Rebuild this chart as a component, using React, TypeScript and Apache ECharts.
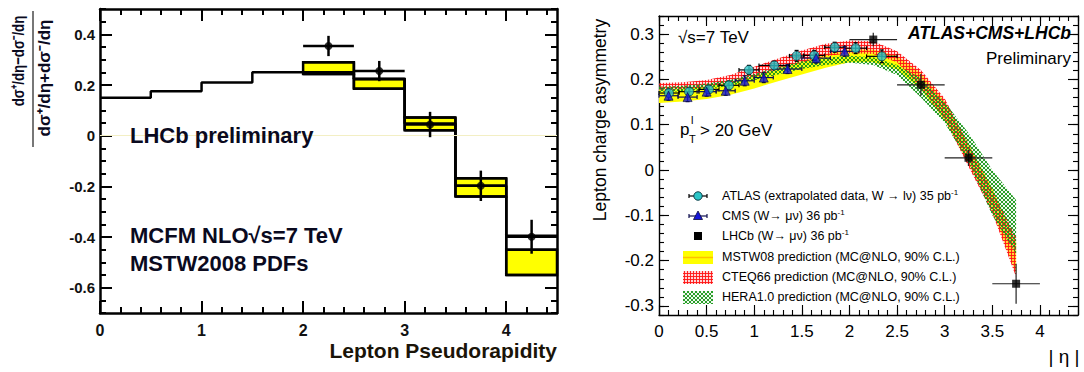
import React, { useEffect, useRef } from "react";
import * as echarts from "echarts";

// ---------------- Left panel (LHCb muon asymmetry) ----------------
const leftBinEdges = [0, 0.5, 1, 1.5, 2, 2.5, 3, 3.5, 4, 4.5];
const mcfmCentral = [0.15, 0.175, 0.21, 0.25, 0.25, 0.224, 0.048, -0.198, -0.395];
const boxLowEdge = [2, 2.5, 3, 3.5, 4];
const boxHighEdge = [2.5, 3, 3.5, 4, 4.5];
const boxUpper = [0.29, 0.224, 0.072, -0.168, -0.45];
const boxLower = [0.243, 0.185, 0.021, -0.24, -0.55];
const lhcbLeftEta = [2.25, 2.75, 3.25, 3.75, 4.25];
const lhcbLeftAsym = [0.354, 0.255, 0.044, -0.198, -0.399];
const lhcbLeftErr = [0.04, 0.04, 0.05, 0.06, 0.067];
const lhcbLeftHalfBin = [0.25, 0.25, 0.25, 0.25, 0.25];
const leftXTicks = [0, 1, 2, 3, 4];
const leftYTicks = [-0.6, -0.4, -0.2, 0, 0.2, 0.4];

// ---------------- Right panel (ATLAS+CMS+LHCb) ----------------
const atlasEta = [0.105, 0.315, 0.525, 0.735, 0.945, 1.21, 1.445, 1.63, 1.845, 2.065, 2.34];
const atlasHalfBin = [0.105, 0.105, 0.105, 0.105, 0.105, 0.16, 0.075, 0.11, 0.105, 0.115, 0.16];
const atlasAsym = [0.170, 0.173, 0.178, 0.187, 0.221, 0.231, 0.252, 0.253, 0.271, 0.269, 0.251];
const atlasErr = [0.008, 0.008, 0.008, 0.009, 0.010, 0.009, 0.012, 0.011, 0.011, 0.012, 0.014];

const cmsEta = [0.1, 0.3, 0.5, 0.7, 0.9, 1.1, 1.35, 1.65, 1.95];
const cmsHalfBin = [0.1, 0.1, 0.1, 0.1, 0.1, 0.1, 0.15, 0.15, 0.15];
const cmsAsym = [0.164, 0.161, 0.173, 0.175, 0.197, 0.204, 0.223, 0.247, 0.262];
const cmsErr = [0.010, 0.010, 0.010, 0.010, 0.011, 0.011, 0.010, 0.011, 0.011];

const lhcbEta = [2.25, 2.75, 3.25, 3.75];
const lhcbHalfBin = [0.25, 0.25, 0.25, 0.25];
const lhcbAsym = [0.288, 0.188, 0.027, -0.251];
const lhcbErr = [0.015, 0.024, 0.018, 0.044];

const bandEta = [0, 0.25, 0.5, 0.75, 1.0, 1.25, 1.5, 1.75, 2.0, 2.25, 2.5, 2.75, 3.0, 3.25, 3.5, 3.75];
const mstwLo = [0.148, 0.151, 0.157, 0.166, 0.180, 0.196, 0.211, 0.226, 0.238, 0.238, 0.222, 0.178, 0.110, 0.015, -0.090, -0.228];
const mstwHi = [0.178, 0.180, 0.185, 0.194, 0.207, 0.224, 0.241, 0.256, 0.266, 0.266, 0.252, 0.214, 0.152, 0.058, -0.040, -0.160];
const cteqLo = [0.176, 0.178, 0.183, 0.192, 0.205, 0.221, 0.237, 0.251, 0.258, 0.256, 0.238, 0.182, 0.112, 0.008, -0.095, -0.236];
const cteqHi = [0.192, 0.194, 0.199, 0.210, 0.228, 0.246, 0.264, 0.279, 0.286, 0.284, 0.262, 0.221, 0.158, 0.058, -0.045, -0.148];
const heraLo = [0.172, 0.174, 0.179, 0.186, 0.198, 0.211, 0.223, 0.232, 0.237, 0.232, 0.210, 0.160, 0.104, 0.018, -0.100, -0.185];
const heraHi = [0.184, 0.186, 0.191, 0.199, 0.212, 0.227, 0.240, 0.248, 0.252, 0.249, 0.232, 0.203, 0.150, 0.082, 0.000, -0.066];

const rightXTicks = [0, 0.5, 1, 1.5, 2, 2.5, 3, 3.5, 4];
const rightYTicks = [-0.3, -0.2, -0.1, 0, 0.1, 0.2, 0.3];

const legendLabels = [
  "ATLAS (extrapolated data, W \u2192 l\u03bd) 35 pb{sup|-1}",
  "CMS (W\u2192 \u03bc\u03bd) 36 pb{sup|-1}",
  "LHCb (W\u2192 \u03bc\u03bd) 36 pb{sup|-1}",
  "MSTW08 prediction (MC@NLO, 90% C.L.)",
  "CTEQ66 prediction (MC@NLO, 90% C.L.)",
  "HERA1.0 prediction (MC@NLO, 90% C.L.)",
];

const FONT = '"Liberation Sans", Arial, Helvetica, sans-serif';

function steps(start: number, end: number, step: number): number[] {
  const out: number[] = [];
  const n = Math.round((end - start) / step);
  for (let i = 0; i <= n; i++) out.push(Math.round((start + i * step) * 1e6) / 1e6);
  return out;
}

function makeAxes(
  grid: number,
  positions: string[],
  min: number,
  max: number,
  majors: number[],
  minors: number[],
  majorLen: number,
  minorLen: number,
  lw: number,
  label: any
) {
  const out: any[] = [];
  positions.forEach((pos, k) => {
    out.push({
      type: "value",
      gridIndex: grid,
      position: pos,
      min,
      max,
      axisLine: { show: true, onZero: false, lineStyle: { color: "#000", width: lw } },
      axisTick: { show: true, inside: true, length: majorLen, customValues: majors, lineStyle: { color: "#000", width: lw * 0.8 } },
      axisLabel: k === 0 ? { show: true, customValues: majors, ...label } : { show: false },
      splitLine: { show: false },
    });
    out.push({
      type: "value",
      gridIndex: grid,
      position: pos,
      min,
      max,
      axisLine: { show: false, onZero: false },
      axisTick: { show: true, inside: true, length: minorLen, customValues: minors, lineStyle: { color: "#000", width: lw * 0.8 } },
      axisLabel: { show: false },
      splitLine: { show: false },
    });
  });
  return out;
}

function errorBars(xIdx: number, yIdx: number, xs: number[], ys: number[], xHalf: number[], yErr: number[], color: string, lw: number, cap: number, z: number) {
  return {
    type: "custom",
    xAxisIndex: xIdx,
    yAxisIndex: yIdx,
    z,
    silent: true,
    data: xs.map((x, i) => [x, ys[i], x - xHalf[i], x + xHalf[i], ys[i] - yErr[i], ys[i] + yErr[i]]),
    encode: { x: 0, y: 1 },
    renderItem: (params: any, api: any) => {
      const x = api.value(0);
      const y = api.value(1);
      const l = api.coord([api.value(2), y]);
      const r = api.coord([api.value(3), y]);
      const b = api.coord([x, api.value(4)]);
      const t = api.coord([x, api.value(5)]);
      const style = { stroke: color, lineWidth: lw };
      const ch: any[] = [
        { type: "line", shape: { x1: l[0], y1: l[1], x2: r[0], y2: r[1] }, style },
        { type: "line", shape: { x1: b[0], y1: b[1], x2: t[0], y2: t[1] }, style },
      ];
      if (cap > 0) {
        ch.push({ type: "line", shape: { x1: b[0] - cap, y1: b[1], x2: b[0] + cap, y2: b[1] }, style });
        ch.push({ type: "line", shape: { x1: t[0] - cap, y1: t[1], x2: t[0] + cap, y2: t[1] }, style });
        ch.push({ type: "line", shape: { x1: l[0], y1: l[1] - cap, x2: l[0], y2: l[1] + cap }, style });
        ch.push({ type: "line", shape: { x1: r[0], y1: r[1] - cap, x2: r[0], y2: r[1] + cap }, style });
      }
      return { type: "group", children: ch };
    },
  };
}

function bandSeries(lo: number[], hi: number[], fill: any, z: number) {
  return {
    type: "custom",
    xAxisIndex: 4,
    yAxisIndex: 4,
    z,
    silent: true,
    data: bandEta.map((e, i) => [e, lo[i], hi[i]]),
    encode: { x: 0, y: 1 },
    renderItem: (params: any, api: any) => {
      if (params.dataIndexInside !== 0) return null;
      const n = params.dataInsideLength;
      const top: number[][] = [];
      const bot: number[][] = [];
      for (let i = 0; i < n; i++) {
        const x = api.value(0, i);
        top.push(api.coord([x, api.value(2, i)]));
        bot.push(api.coord([x, api.value(1, i)]));
      }
      return { type: "polygon", shape: { points: top.concat(bot.reverse()) }, style: { fill, stroke: "none" } };
    },
  };
}

function makePattern(w: number, h: number, draw: (ctx: CanvasRenderingContext2D) => void) {
  const c = document.createElement("canvas");
  c.width = w;
  c.height = h;
  const ctx = c.getContext("2d")!;
  draw(ctx);
  return { image: c.toDataURL(), repeat: "repeat", imageWidth: w, imageHeight: h };
}

function txt(text: string, x: number, y: number, size: number, opts: any = {}) {
  return {
    type: "text",
    x,
    y,
    z: 100,
    rotation: opts.rotation || 0,
    scaleX: opts.scaleX || 1,
    silent: true,
    style: {
      text,
      fill: opts.color || "#000",
      fontSize: size,
      fontFamily: FONT,
      fontWeight: opts.weight || "normal",
      fontStyle: opts.style || "normal",
      align: opts.align || "left",
      verticalAlign: "middle",
      rich: opts.rich,
    },
  };
}

export default function App() {
  const ref = useRef<HTMLDivElement>(null);
  useEffect(() => {
    const chart = echarts.init(ref.current!, null, { renderer: "svg" });

    const redHatch = makePattern(3, 3, (ctx) => {
      ctx.fillStyle = "rgba(255,140,140,0.35)";
      ctx.fillRect(0, 0, 3, 3);
      ctx.fillStyle = "rgba(255,20,20,0.9)";
      ctx.fillRect(0, 0, 3, 1);
      ctx.fillRect(0, 0, 1, 3);
    });
    const greenHatch = makePattern(4, 4, (ctx) => {
      ctx.fillStyle = "rgba(120,200,120,0.12)";
      ctx.fillRect(0, 0, 4, 4);
      ctx.fillStyle = "rgba(20,150,20,0.9)";
      for (let i = 0; i < 4; i++) {
        ctx.fillRect(i, i, 1, 1);
        ctx.fillRect(3 - i, i, 1, 1);
      }
    });

    const leftLabel = { margin: 8, color: "#111", fontFamily: FONT, fontWeight: "bold", fontSize: 15 };
    const rightLabel = { margin: 8, color: "#000", fontFamily: FONT, fontSize: 17 };

    const xAxes = [
      ...makeAxes(0, ["bottom", "top"], 0, 4.5, leftXTicks, steps(0, 4.4, 0.2), 12, 6, 2.5, { ...leftLabel, margin: 9, fontSize: 16 }),
      ...makeAxes(1, ["bottom", "top"], 0, 4.4, rightXTicks, steps(0, 4.4, 0.1), 10, 5, 1.4, { ...rightLabel, margin: 8 }),
    ];
    const yAxes = [
      ...makeAxes(0, ["left", "right"], -0.7, 0.5, leftYTicks, steps(-0.7, 0.5, 0.05), 12, 6, 2.5, { ...leftLabel, margin: 5 }),
      ...makeAxes(1, ["left", "right"], -0.32, 0.34, rightYTicks, steps(-0.32, 0.34, 0.02), 10, 5, 1.4, { ...rightLabel, margin: 5 }),
    ];

    const histData = leftBinEdges.map((e, i) => [e, mcfmCentral[Math.min(i, mcfmCentral.length - 1)]]);
    const upperData = boxLowEdge.map((e, i) => [e, boxUpper[i]]).concat([[boxHighEdge[boxHighEdge.length - 1], boxUpper[boxUpper.length - 1]]]);
    const lowerData = boxLowEdge.map((e, i) => [e, boxLower[i]]).concat([[boxHighEdge[boxHighEdge.length - 1], boxLower[boxLower.length - 1]]]);

    const series: any[] = [
      // zero reference line (faint)
      {
        type: "line",
        xAxisIndex: 0,
        yAxisIndex: 0,
        data: [],
        z: 1,
        markLine: {
          silent: true,
          symbol: "none",
          label: { show: false },
          lineStyle: { color: "#f3efc4", width: 1, type: "solid" },
          data: [{ yAxis: 0 }],
        },
      },
      // yellow boxes
      {
        type: "custom",
        xAxisIndex: 0,
        yAxisIndex: 0,
        z: 2,
        silent: true,
        data: boxLowEdge.map((x0, i) => [x0, boxHighEdge[i], boxLower[i], boxUpper[i]]),
        encode: { x: [0, 1], y: [2, 3] },
        renderItem: (params: any, api: any) => {
          const p0 = api.coord([api.value(0), api.value(3)]);
          const p1 = api.coord([api.value(1), api.value(2)]);
          return {
            type: "rect",
            shape: { x: p0[0], y: p0[1], width: p1[0] - p0[0], height: p1[1] - p0[1] },
            style: { fill: "#ffff00", stroke: "#000", lineWidth: 2.5 },
          };
        },
      },
      {
        type: "line",
        xAxisIndex: 0,
        yAxisIndex: 0,
        step: "end",
        data: upperData,
        symbol: "none",
        z: 3,
        lineStyle: { color: "#000", width: 2.5 },
      },
      {
        type: "line",
        xAxisIndex: 0,
        yAxisIndex: 0,
        step: "end",
        data: lowerData,
        symbol: "none",
        z: 3,
        lineStyle: { color: "#000", width: 2.5 },
      },
      {
        type: "line",
        xAxisIndex: 0,
        yAxisIndex: 0,
        step: "end",
        data: histData,
        symbol: "none",
        z: 4,
        lineStyle: { color: "#000", width: 2.5 },
      },
      errorBars(0, 0, lhcbLeftEta, lhcbLeftAsym, lhcbLeftHalfBin, lhcbLeftErr, "#000", 2.5, 0, 5),
      {
        type: "scatter",
        xAxisIndex: 0,
        yAxisIndex: 0,
        z: 6,
        symbol: "circle",
        symbolSize: 8,
        itemStyle: { color: "#000" },
        data: lhcbLeftEta.map((x, i) => [x, lhcbLeftAsym[i]]),
      },
      // right panel bands
      bandSeries(mstwLo, mstwHi, "#ffff00", 1),
      bandSeries(cteqLo, cteqHi, redHatch, 2),
      bandSeries(heraLo, heraHi, greenHatch, 3),
      errorBars(4, 4, atlasEta, atlasAsym, atlasHalfBin, atlasErr, "#000", 1.2, 2, 5),
      errorBars(4, 4, cmsEta, cmsAsym, cmsHalfBin, cmsErr, "#101050", 1.2, 2, 5),
      errorBars(4, 4, lhcbEta, lhcbAsym, lhcbHalfBin, lhcbErr, "#222", 1.2, 0, 5),
      {
        type: "scatter",
        xAxisIndex: 4,
        yAxisIndex: 4,
        z: 6,
        symbol: "circle",
        symbolSize: 9,
        itemStyle: { color: "#2cc6c8", borderColor: "#0e3c46", borderWidth: 1 },
        data: atlasEta.map((x, i) => [x, atlasAsym[i]]),
      },
      {
        type: "scatter",
        xAxisIndex: 4,
        yAxisIndex: 4,
        z: 6,
        symbol: "triangle",
        symbolSize: 9,
        itemStyle: { color: "#1515d8", borderColor: "#08083a", borderWidth: 0.8 },
        data: cmsEta.map((x, i) => [x, cmsAsym[i]]),
      },
      {
        type: "scatter",
        xAxisIndex: 4,
        yAxisIndex: 4,
        z: 6,
        symbol: "rect",
        symbolSize: 8,
        itemStyle: { color: "#000" },
        data: lhcbEta.map((x, i) => [x, lhcbAsym[i]]),
      },
    ];

    const legRows = [196, 216, 236, 257, 277, 297];
    const supRich = { sup: { fontSize: 8, verticalAlign: "top", fontFamily: FONT, fill: "#000", lineHeight: 15 } };
    const lx = 698;
    const bar = (x1: number, y1: number, x2: number, y2: number, c = "#000", w = 1.2) => ({
      type: "line",
      silent: true,
      z: 100,
      shape: { x1, y1, x2, y2 },
      style: { stroke: c, lineWidth: w },
    });

    const ink = "#0a0a1e";
    const graphic: any[] = [
      // left panel
      txt("d\u03c3\u207a/d\u03b7\u2212d\u03c3\u207b/d\u03b7", 18, 61, 17, { rotation: Math.PI / 2, align: "center", weight: "bold", color: ink, scaleX: 0.78 }),
      txt("d\u03c3\u207a/d\u03b7+d\u03c3\u207b/d\u03b7", 44, 78, 17, { rotation: Math.PI / 2, align: "center", weight: "bold", color: ink }),
      bar(33, 11, 33, 147, "#777", 2),
      txt("LHCb preliminary", 130, 135, 22, { color: ink, weight: "bold" }),
      txt("MCFM NLO\u221as=7 TeV", 130, 235, 22, { color: ink, weight: "bold" }),
      txt("MSTW2008 PDFs", 130, 263, 22, { color: ink, weight: "bold" }),
      txt("Lepton Pseudorapidity", 557, 350, 21, { align: "right", weight: "bold", color: "#1a1408" }),
      // right panel
      txt("Lepton charge asymmetry", 600, 120, 17.5, { rotation: Math.PI / 2, align: "center" }),
      txt("\u221as=7 TeV", 678, 37, 17),
      txt("ATLAS+CMS+LHCb", 1071, 33, 17.5, { align: "right", weight: "bold", style: "italic" }),
      txt("Preliminary", 1071, 58, 17, { align: "right" }),
      txt("p", 680, 129, 17),
      txt("l", 691, 120, 11),
      txt("T", 689, 139, 11),
      txt("> 20 GeV", 700, 130, 17),
      txt("| \u03b7 |", 1064, 356, 19, { align: "center" }),
      // legend
      bar(lx - 9, legRows[0], lx + 9, legRows[0]),
      bar(lx - 9, legRows[0] - 2, lx - 9, legRows[0] + 2),
      bar(lx + 9, legRows[0] - 2, lx + 9, legRows[0] + 2),
      { type: "circle", silent: true, z: 101, shape: { cx: lx, cy: legRows[0], r: 4.2 }, style: { fill: "#2cc6c8", stroke: "#0e3c46", lineWidth: 1 } },
      bar(lx - 9, legRows[1], lx + 9, legRows[1], "#101050"),
      bar(lx - 9, legRows[1] - 2, lx - 9, legRows[1] + 2, "#101050"),
      bar(lx + 9, legRows[1] - 2, lx + 9, legRows[1] + 2, "#101050"),
      { type: "polygon", silent: true, z: 101, shape: { points: [[lx, legRows[1] - 5], [lx - 4.5, legRows[1] + 3.5], [lx + 4.5, legRows[1] + 3.5]] }, style: { fill: "#1515d8", stroke: "#08083a", lineWidth: 0.8 } },
      { type: "rect", silent: true, z: 100, shape: { x: lx - 4, y: legRows[2] - 4, width: 8, height: 8 }, style: { fill: "#000" } },
      { type: "rect", silent: true, z: 100, shape: { x: 683, y: legRows[3] - 6, width: 30, height: 13 }, style: { fill: "#ffff00" } },
      bar(683, legRows[3] + 0.5, 713, legRows[3] + 0.5, "rgba(255,150,0,0.6)", 1.5),
      { type: "rect", silent: true, z: 100, shape: { x: 683, y: legRows[4] - 6, width: 30, height: 13 }, style: { fill: redHatch } },
      { type: "rect", silent: true, z: 100, shape: { x: 683, y: legRows[5] - 6, width: 30, height: 13 }, style: { fill: greenHatch } },
      ...legendLabels.map((t, i) => txt(t, 722, legRows[i], 12.5, { rich: supRich })),
    ];

    chart.setOption({
      animation: false,
      backgroundColor: "#fff",
      grid: [
        { left: 100, top: 9, width: 457, height: 304, containLabel: false, outerBoundsMode: "none" },
        { left: 659, top: 16, width: 419, height: 299, containLabel: false, outerBoundsMode: "none" },
      ],
      xAxis: xAxes,
      yAxis: yAxes,
      series,
      graphic,
    });
    return () => chart.dispose();
  }, []);
  return <div ref={ref} style={{ position: "absolute", left: 0, top: 0, width: 1084, height: 372, background: "#fff" }} />;
}
